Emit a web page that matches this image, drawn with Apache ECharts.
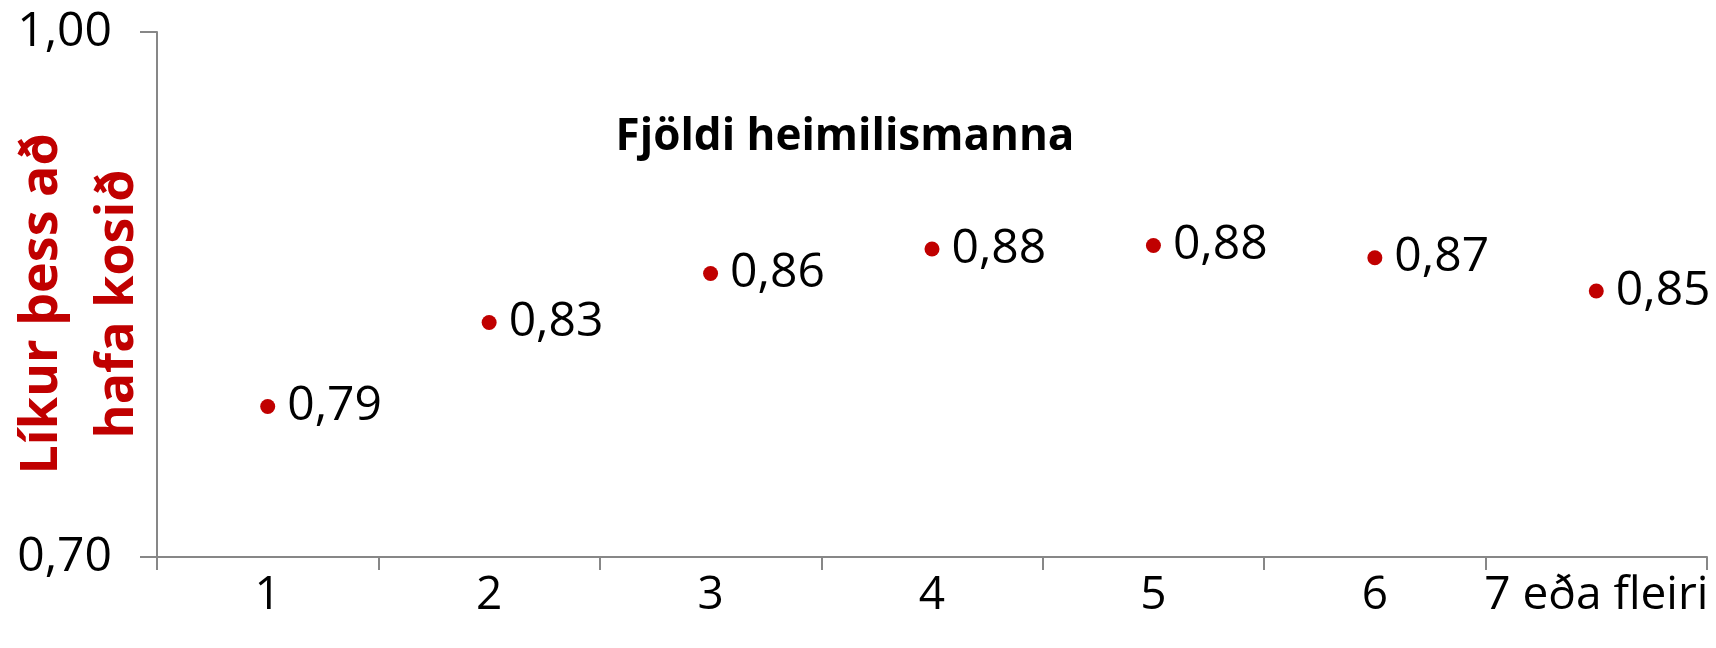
<!DOCTYPE html>
<html>
<head>
<meta charset="utf-8">
<script src="https://cdn.jsdelivr.net/npm/echarts@6/dist/echarts.min.js"></script>
<style>
html,body{margin:0;padding:0;background:#fff;}
#c{width:1716px;height:648px;}
</style>
</head>
<body>
<div id="c"></div>
<script>
var categories = ['1', '2', '3', '4', '5', '6', '7 eða fleiri'];
var values = [0.786, 0.834, 0.862, 0.876, 0.878, 0.871, 0.852];
var yTicks = [0.70, 1.00];
var titleText = 'Fjöldi heimilismanna';
var yName = 'Líkur þess að\nhafa kosið';

function fmt(v) { return Number(v).toFixed(2).replace('.', ','); }

var chart = echarts.init(document.getElementById('c'));
chart.setOption({
  animation: false,
  backgroundColor: '#fff',
  title: {
    text: titleText,
    left: 840,
    top: 110,
    textAlign: 'center',
    textStyle: { fontFamily: 'Open Sans', fontWeight: 'bold', fontSize: 44, color: '#000' }
  },
  graphic: [{
    type: 'text',
    x: 80,
    y: 304,
    rotation: Math.PI / 2,
    style: {
      text: yName,
      fontFamily: 'Open Sans',
      fontWeight: 'bold',
      fontSize: 52,
      lineHeight: 76,
      fill: '#C00000',
      align: 'center',
      verticalAlign: 'middle'
    }
  }],
  grid: { left: 157, right: 9, top: 32, bottom: 91, containLabel: false },
  xAxis: {
    type: 'category',
    data: categories,
    boundaryGap: true,
    axisLine: { lineStyle: { color: '#878787', width: 2 } },
    axisTick: { show: true, length: 13, alignWithLabel: false, lineStyle: { color: '#878787', width: 2 } },
    axisLabel: { margin: 16, fontFamily: 'Open Sans', fontSize: 46, color: '#000', interval: 0 },
    splitLine: { show: false }
  },
  yAxis: {
    type: 'value',
    min: yTicks[0],
    max: yTicks[yTicks.length - 1],
    interval: yTicks[1] - yTicks[0],
    axisLine: { show: true, lineStyle: { color: '#878787', width: 2 } },
    axisTick: { show: true, length: 17, lineStyle: { color: '#878787', width: 2 } },
    axisLabel: { margin: 45, fontFamily: 'Open Sans', fontSize: 48, color: '#000', formatter: fmt },
    splitLine: { show: false }
  },
  series: [{
    type: 'scatter',
    data: values,
    symbol: 'circle',
    symbolSize: 15,
    itemStyle: { color: '#C00000', opacity: 1 },
    label: {
      show: true,
      position: 'right',
      distance: 12,
      fontFamily: 'Open Sans',
      fontSize: 48,
      color: '#000',
      opacity: 1,
      formatter: function (p) { return fmt(p.value); }
    },
    emphasis: { disabled: true }
  }]
});
</script>
</body>
</html>
